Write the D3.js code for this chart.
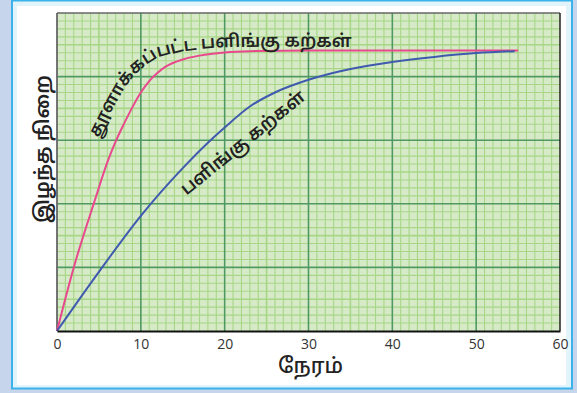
<!DOCTYPE html>
<html><head><meta charset="utf-8">
<script src="https://cdn.jsdelivr.net/npm/d3@7"></script>
<style>body{margin:0;background:#c6d5ec;} svg{display:block}</style>
</head><body><svg id="c" width="577" height="393"></svg>
<script>
// ---- data ----
const xTicks = [0, 10, 20, 30, 40, 50, 60];
const powderX = [0, 2, 4.5, 6, 7, 8, 9, 10, 11, 12, 13, 15, 17, 20, 23, 30, 55];
const powderY = [0, 10, 20.5, 26.5, 29.8, 32.6, 35.2, 37.5, 39.3, 40.6, 41.6, 42.7, 43.3, 43.8, 44, 44.1, 44.1];
const lumpX = [0, 5, 10, 15, 18, 20, 23, 26, 30, 35, 40, 45, 50, 54.6];
const lumpY = [0, 9.3, 18.1, 25.6, 29.6, 32, 35.3, 37.5, 39.5, 41.2, 42.3, 43.1, 43.7, 44];
const xLabel = "நேரம்";
const yLabel = "இழந்த நிறை";
const powderLabel = "தூளாக்கப்பட்ட பளிங்கு கற்கள்";
const lumpLabel = "பளிங்கு கற்கள்";

const tamilFont = "'Noto Sans Tamil','Lohit Tamil','Noto Sans',sans-serif";
const svg = d3.select("#c");

// frame
svg.append("rect").attr("x", 12).attr("y", 0.5).attr("width", 560).attr("height", 388)
  .attr("fill", "#e1f3fb").attr("stroke", "#3cb2ea").attr("stroke-width", 2);
svg.append("rect").attr("x", 17).attr("y", 6).attr("width", 549).attr("height", 379).attr("fill", "#fff");

const x = d3.scaleLinear([0, 60], [57, 560]);
const y = d3.scaleLinear([0, 50], [331, 13]);

const g = svg.append("g");
g.append("rect").attr("x", x(0)).attr("y", y(50)).attr("width", x(60) - x(0)).attr("height", y(0) - y(50))
  .attr("fill", "#d7eac8");

// minor grid
const vMinor = d3.range(1, 60).filter(v => v % 10 !== 0);
const hMinor = d3.range(1, 40).map(i => i * 1.25).filter(v => v % 10 !== 0);
g.selectAll(".vm").data(vMinor).join("line")
  .attr("x1", d => x(d)).attr("x2", d => x(d)).attr("y1", y(0)).attr("y2", y(50))
  .attr("stroke", "#a6d686").attr("stroke-width", d => d % 5 === 0 ? 1.6 : 1.1);
g.selectAll(".hm").data(hMinor).join("line")
  .attr("y1", d => y(d)).attr("y2", d => y(d)).attr("x1", x(0)).attr("x2", x(60))
  .attr("stroke", "#a6d686").attr("stroke-width", d => d % 5 === 0 ? 1.6 : 1.1);
// major grid
g.selectAll(".vM").data([10, 20, 30, 40, 50]).join("line")
  .attr("x1", d => x(d)).attr("x2", d => x(d)).attr("y1", y(0)).attr("y2", y(50))
  .attr("stroke", "#4f9a63").attr("stroke-width", 1.6);
g.selectAll(".hM").data([10, 20, 30, 40]).join("line")
  .attr("y1", d => y(d)).attr("y2", d => y(d)).attr("x1", x(0)).attr("x2", x(60))
  .attr("stroke", "#4f9a63").attr("stroke-width", 1.6);

// plot border
g.append("line").attr("x1", x(0)).attr("x2", x(60)).attr("y1", y(50)).attr("y2", y(50)).attr("stroke", "#666").attr("stroke-width", 1.5);
g.append("line").attr("x1", x(60)).attr("x2", x(60)).attr("y1", y(50)).attr("y2", y(0)).attr("stroke", "#222").attr("stroke-width", 1.5);
g.append("line").attr("x1", x(0)).attr("x2", x(0)).attr("y1", y(50)).attr("y2", y(0)).attr("stroke", "#666").attr("stroke-width", 1.8);

// x axis
const xAxis = d3.axisBottom(x).tickValues(xTicks).tickSize(0).tickPadding(8);
const ax = svg.append("g").attr("transform", `translate(0,${y(0)})`).call(xAxis);
ax.select(".domain").attr("stroke", "#111").attr("stroke-width", 2);
ax.selectAll("text").attr("font-family", "'Open Sans',sans-serif").attr("font-size", 14).attr("fill", "#333");

const line = d3.line().x(d => x(d[0])).y(d => y(d[1])).curve(d3.curveMonotoneX);
const powder = powderX.map((v, i) => [v, powderY[i]]);
const lump = lumpX.map((v, i) => [v, lumpY[i]]);

const pPath = g.append("path").datum(powder).attr("d", line).attr("fill", "none")
  .attr("stroke", "#e8488c").attr("stroke-width", 2);
g.append("path").datum(lump).attr("d", line).attr("fill", "none")
  .attr("stroke", "#3f5aae").attr("stroke-width", 2);

// offset path for curved label
const node = pPath.node();
const L = node.getTotalLength();
const pts = [];
for (let s = 0; s < L - 2; s += 3) {
  const a = node.getPointAtLength(s), b = node.getPointAtLength(s + 1.5);
  let dx = b.x - a.x, dy = b.y - a.y; const n = Math.hypot(dx, dy) || 1; dx /= n; dy /= n;
  const d = 4 + 14 * Math.abs(dy);
  const p = [a.x + dy * d, a.y - dx * d];
  if (a.x >= x(6.8) && a.x <= x(40)) pts.push(p);
}
svg.append("defs").append("path").attr("id", "lbl")
  .attr("d", d3.line().curve(d3.curveBasis)(pts));
svg.append("text").attr("font-family", tamilFont).attr("font-size", 17.5).attr("font-weight", 600).attr("fill", "#222")
  .append("textPath").attr("href", "#lbl").attr("startOffset", 0).text(powderLabel);

svg.append("text").attr("font-family", tamilFont).attr("font-size", 18).attr("font-weight", 600).attr("fill", "#222")
  .attr("text-anchor", "middle")
  .attr("transform", `translate(${x(22.6)},${y(28.9)}) rotate(-39)`).text(lumpLabel);

// axis titles
svg.append("text").attr("x", (x(0) + x(60)) / 2 + 2).attr("y", 373).attr("text-anchor", "middle")
  .attr("font-family", tamilFont).attr("font-size", 21).attr("font-weight", 500).attr("fill", "#222").text(xLabel);
svg.append("text").attr("transform", "translate(49,149) rotate(-90)").attr("text-anchor", "middle")
  .attr("font-family", tamilFont).attr("font-size", 20).attr("font-weight", 600).attr("fill", "#222").text(yLabel);
</script>
</body></html>
